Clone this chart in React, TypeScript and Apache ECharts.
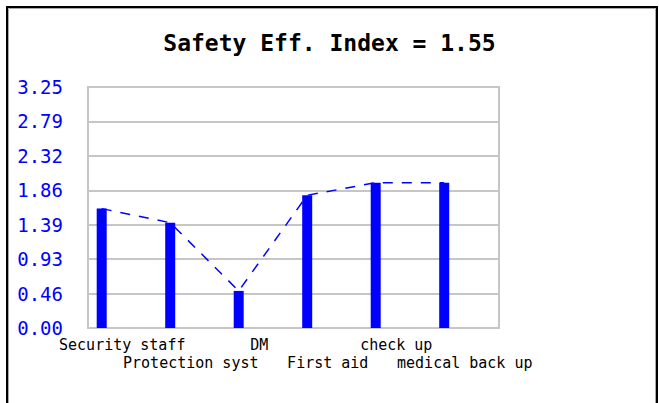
import React, { useEffect, useRef } from "react";
import * as echarts from "echarts";

const categories = ["Security staff", "Protection syst", "DM", "First aid", "check up", "medical back up"];
const values = [1.61, 1.42, 0.5, 1.79, 1.96, 1.96];
const safetyIndex = 1.55;
const yMax = 3.25;
const ySteps = 7;
const yTickLabels = ["0.00", "0.46", "0.93", "1.39", "1.86", "2.32", "2.79", "3.25"];

export default function App() {
  const ref = useRef<HTMLDivElement>(null);
  useEffect(() => {
    if (!ref.current) return;
    const chart = echarts.init(ref.current, undefined, { renderer: "svg" });
    const gridColor = "#c6c6c6";
    const mono = "DejaVu Sans Mono";
    const catAxis = (row: number, margin: number) => ({
      type: "category",
      data: categories,
      boundaryGap: true,
      position: "bottom",
      axisLine: { show: false },
      axisTick: { show: false },
      splitLine: { show: false },
      axisLabel: {
        interval: 0,
        hideOverlap: false,
        margin,
        fontFamily: mono,
        fontSize: 15,
        lineHeight: 18,
        color: "#000",
        formatter: (v: string, i: number) => (i % 2 === row ? v : ""),
      },
    });
    chart.setOption({
      animation: false,
      backgroundColor: "#ffffff",
      title: {
        text: `Safety Eff. Index = ${safetyIndex.toFixed(2)}`,
        left: "center",
        top: 26,
        textStyle: { fontFamily: mono, fontWeight: "bold", fontSize: 23, color: "#000" },
      },
      graphic: [
        {
          type: "rect",
          shape: { x: 7, y: 7, width: 650, height: 420 },
          style: { fill: "none", stroke: "#000", lineWidth: 2 },
          silent: true,
        },
        {
          type: "rect",
          shape: { x: 8.5, y: 8.5, width: 647, height: 420 },
          style: { fill: "none", stroke: "#a8a8a8", lineWidth: 1 },
          silent: true,
        },
      ],
      grid: {
        left: 88,
        top: 87,
        width: 411,
        height: 241,
        show: true,
        borderColor: gridColor,
        borderWidth: 2,
        backgroundColor: "transparent",
      },
      xAxis: [
        catAxis(0, 8),
        {
          type: "value",
          min: -0.2,
          max: 5.8,
          show: false,
          splitLine: { show: false },
        },
        catAxis(1, 26),
      ],
      yAxis: {
        type: "value",
        min: 0,
        max: yMax,
        interval: yMax / ySteps,
        axisLine: { show: false },
        axisTick: { show: false },
        splitLine: { show: true, lineStyle: { color: gridColor, width: 2 } },
        axisLabel: {
          margin: 25,
          fontFamily: mono,
          fontSize: 19,
          color: "#0000ff",
          formatter: (v: number) => {
            const idx = Math.round((v / yMax) * ySteps);
            return yTickLabels[idx] ?? v.toFixed(2);
          },
        },
      },
      series: [
        {
          type: "bar",
          xAxisIndex: 1,
          barWidth: 10,
          itemStyle: { color: "#0000ff" },
          data: values.map((v, i) => [i, v]),
        },
        {
          type: "line",
          xAxisIndex: 1,
          symbol: "none",
          lineStyle: { color: "#0000ff", width: 1.5, type: [10, 9] },
          data: values.map((v, i) => [i, v]),
        },
      ],
    });
    return () => chart.dispose();
  }, []);
  return (
    <div
      ref={ref}
      style={{ position: "fixed", left: 0, top: 0, width: 659, height: 403, background: "#fff" }}
    />
  );
}
